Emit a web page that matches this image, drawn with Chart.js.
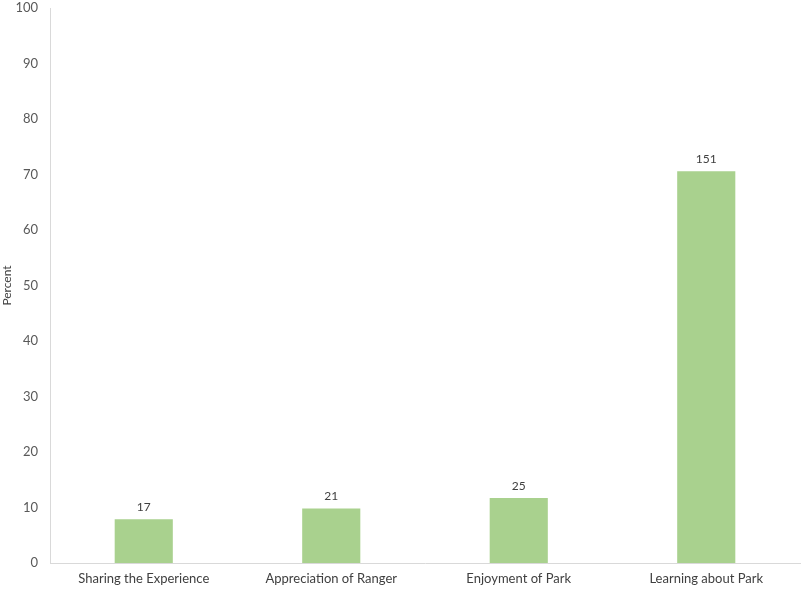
<!DOCTYPE html>
<html>
<head>
<meta charset="utf-8">
<script src="https://cdn.jsdelivr.net/npm/chart.js@4/dist/chart.umd.min.js"></script>
<style>
  html, body { margin: 0; padding: 0; background: #fff; }
  #wrap { width: 803px; height: 589px; }
</style>
</head>
<body>
<div id="wrap"><canvas id="myChart" width="803" height="589"></canvas></div>
<script>
const categories = ['Sharing the Experience', 'Appreciation of Ranger', 'Enjoyment of Park', 'Learning about Park'];
const counts = [17, 21, 25, 151];
const percents = [7.9, 9.8, 11.7, 70.6];

// draws the count above each bar
const countLabels = {
  id: 'countLabels',
  afterDatasetsDraw(chart) {
    const ctx = chart.ctx;
    const meta = chart.getDatasetMeta(0);
    ctx.save();
    ctx.font = '12px Lato, "Open Sans", sans-serif';
    ctx.fillStyle = '#404040';
    ctx.textAlign = 'center';
    ctx.textBaseline = 'bottom';
    meta.data.forEach((bar, i) => {
      ctx.fillText(counts[i], bar.x, bar.y - 6);
    });
    ctx.restore();
  }
};

Chart.defaults.font.family = 'Lato, "Open Sans", sans-serif';
Chart.defaults.color = '#595959';

new Chart(document.getElementById('myChart'), {
  type: 'bar',
  data: {
    labels: categories,
    datasets: [{
      data: percents,
      backgroundColor: '#a9d18e',
      barPercentage: 0.31,
      categoryPercentage: 1.0
    }]
  },
  options: {
    responsive: false,
    animation: false,
    layout: { padding: { top: 0, right: 3, left: 0, bottom: 0 } },
    scales: {
      x: {
        grid: { display: false, drawTicks: false },
        border: { display: true, color: '#d9d9d9' },
        ticks: { font: { size: 13 }, color: '#404040', padding: 8 },
        afterFit(scale) { scale.height = 26; }
      },
      y: {
        min: 0,
        max: 100,
        grid: { display: false, drawTicks: false },
        border: { display: true, color: '#d9d9d9' },
        ticks: { stepSize: 10, font: { size: 13 }, color: '#595959', padding: 12 },
        title: { display: true, text: 'Percent', font: { size: 12 }, color: '#404040', padding: 0 },
        afterFit(scale) {
          scale.width = 50;
          scale.paddingTop = 8;
          scale.paddingBottom = 0;
        }
      }
    },
    plugins: {
      legend: { display: false },
      tooltip: { enabled: false }
    }
  },
  plugins: [countLabels]
});
</script>
</body>
</html>
